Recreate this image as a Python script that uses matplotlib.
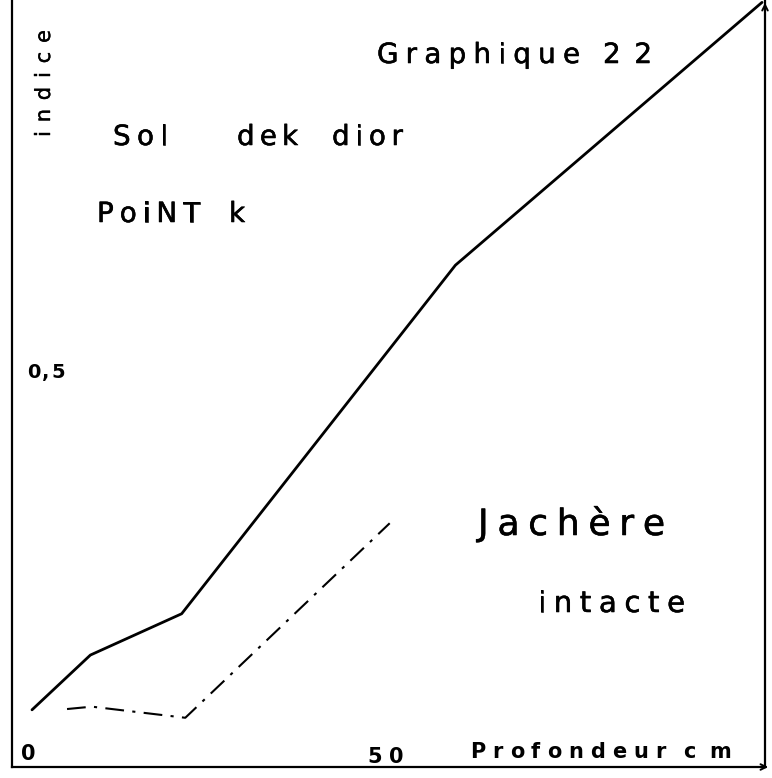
import matplotlib
matplotlib.use("Agg")
import matplotlib.pyplot as plt
import matplotlib.patheffects as pe

# Data
depth_solid = [0, 8, 20.5, 58, 100]
indice_solid = [0.072, 0.141, 0.193, 0.632, 0.963]
depth_dash = [4.8, 8.2, 21, 49]
indice_dash = [0.073, 0.076, 0.062, 0.307]

xticks = [0, 50]
xtick_labels = ["0", "50"]
ytick = 0.5
ytick_label = "0,5"

W, H = 772, 778
fig = plt.figure(figsize=(W / 100, H / 100), dpi=100)
fig.patch.set_facecolor("white")
renderer = fig.canvas.get_renderer()

# axes rectangle in pixels
left_px, right_px, top_px, bottom_px = 12, 765, 0, 767
ax = fig.add_axes([left_px / W, 1 - bottom_px / H,
                   (right_px - left_px) / W, (bottom_px - top_px) / H])
x0_px = 32
px_per_cm = 7.3
px_per_unit = 794.0
ax.set_xlim((left_px - x0_px) / px_per_cm, (right_px - x0_px) / px_per_cm)
ax.set_ylim(0, (bottom_px - top_px) / px_per_unit)

for s in ["left", "bottom", "right"]:
    ax.spines[s].set_linewidth(1.6)
    ax.spines[s].set_color("black")
ax.spines["top"].set_visible(False)
ax.set_xticks([])
ax.set_yticks([])

ax.plot(depth_solid, indice_solid, color="black", lw=2.0, solid_capstyle="round", clip_on=False)
ax.plot(depth_dash, indice_dash, color="black", lw=1.5, dashes=[9, 4, 1.5, 4], clip_on=False)


def char_width(ch, size, weight):
    t = fig.text(0, 0, ch, fontsize=size, fontweight=weight)
    w = t.get_window_extent(renderer).width
    t.remove()
    return w


def spaced(x_start, x_end, y_base, s, size, weight="normal", vertical=False, stroke=0.4):
    """Draw the word s letter by letter so that it spans x_start..x_end pixels
    (or, if vertical, from y=x_start upward to y=x_end, baseline at x=y_base)."""
    widths = [char_width(c, size, weight) for c in s]
    total = abs(x_end - x_start)
    track = (total - sum(widths)) / max(len(s) - 1, 1)
    effects = [pe.withStroke(linewidth=stroke, foreground="black")] if stroke else None
    pos = 0.0
    for c, w in zip(s, widths):
        if vertical:
            yp = x_start - pos
            fig.text(y_base / W, 1 - yp / H, c, fontsize=size, fontweight=weight,
                     rotation=90, rotation_mode="anchor", ha="left", va="baseline",
                     path_effects=effects)
        else:
            xp = x_start + pos
            fig.text(xp / W, 1 - y_base / H, c, fontsize=size, fontweight=weight,
                     ha="left", va="baseline", path_effects=effects)
        pos += w + track


def data_to_px_x(xv):
    return x0_px + xv * px_per_cm

# tick labels (anchored on the data scale)
spaced(data_to_px_x(xticks[0]) - 11, data_to_px_x(xticks[0]) + 3, 760, xtick_labels[0], 15, "bold", stroke=0)
spaced(data_to_px_x(xticks[1]) - 30, data_to_px_x(xticks[1]) + 6, 763, xtick_labels[1], 15, "bold", stroke=0)
spaced(27, 65, bottom_px - ytick * px_per_unit + 8, ytick_label, 14, "bold", stroke=0)

# axis titles and annotations
spaced(470, 666, 758, "Profondeur", 15, "bold", stroke=0)
spaced(683, 731, 758, "cm", 15, "bold", stroke=0)
spaced(137, 30, 50, "indice", 15, vertical=True, stroke=0.3)
spaced(377, 580, 63, "Graphique", 20)
spaced(603, 652, 63, "22", 20)
spaced(113, 168, 145, "Sol", 20)
spaced(237, 298, 145, "dek", 20)
spaced(332, 403, 145, "dior", 20)
spaced(97, 200, 222, "PoiNT", 20)
spaced(229, 255, 222, "k", 20)
spaced(478, 665, 535, "Jachère", 26)
spaced(538, 685, 612, "intacte", 21)

# arrow heads at ends of axes
ax.annotate("", xy=(771 / W, 1 - 767 / H), xytext=(748 / W, 1 - 767 / H),
            xycoords="figure fraction", textcoords="figure fraction",
            arrowprops=dict(arrowstyle="->", lw=1.4, color="black"))
ax.annotate("", xy=(765 / W, 1 - 0 / H), xytext=(765 / W, 1 - 20 / H),
            xycoords="figure fraction", textcoords="figure fraction",
            arrowprops=dict(arrowstyle="->", lw=1.4, color="black"))

fig.savefig("out.png", dpi=100, facecolor="white")
